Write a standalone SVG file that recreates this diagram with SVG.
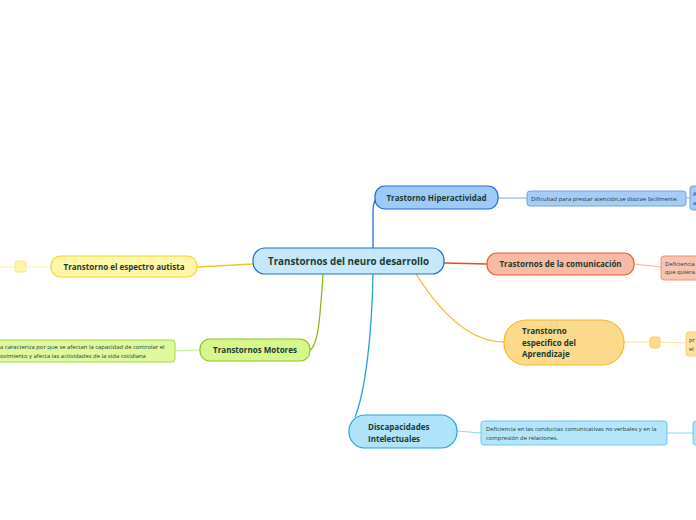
<svg xmlns="http://www.w3.org/2000/svg" width="696" height="520" viewBox="0 0 696 520">
<style>
text{font-family:"Open Sans","Noto Sans",sans-serif;fill:#1b3b30}
.t{font-weight:bold;font-size:8px}
.s{font-size:5.9px}
.c{fill:none;stroke-width:1.3}
.l{fill:none;stroke-width:1}
</style>
<rect width="696" height="520" fill="#fff"/>
<g id="connectors">
<path class="c" d="M373,248 L373,211 Q373,199 379,198" stroke="#2c6fd6"/>
<path class="c" d="M444,263 L487,264" stroke="#e8481c"/>
<path class="c" d="M416,274 C440,312 470,342 504,342" stroke="#f5b82a"/>
<path class="c" d="M373,274 C372,330 366,390 355,417" stroke="#2a9fd6"/>
<path class="c" d="M323,274 C320,320 318,345 310,350" stroke="#8bbb1a"/>
<path class="c" d="M253,264 L197,267" stroke="#f0c81a"/>
<path class="l" d="M498,198 L527,198" stroke="#7aa8ea"/>
<path class="l" d="M686,198 L690,198" stroke="#7aa8ea"/>
<path class="l" d="M634,264 L661,267" stroke="#f5b4a0"/>
<path class="l" d="M624,342 L650,342 M660,342 L686,343" stroke="#fde3a0"/>
<path class="l" d="M457,431 L481,433 M667,433 L693,433" stroke="#8fd2f3"/>
<path class="l" d="M51,267 L26,267 M15,267 L0,267" stroke="#fbf3a0"/>
<path class="l" d="M200,350 L175,351" stroke="#c5e88a"/>
</g>
<g id="central">
<rect x="253" y="248" width="191" height="26" rx="12" fill="#c7e8fb" stroke="#1c70bd" stroke-width="1.2"/>
<text x="348.5" y="264.5" text-anchor="middle" font-weight="bold" font-size="9.8">Transtornos del neuro desarrollo</text>
</g>
<g id="hiperactividad">
<rect x="375" y="186" width="123" height="23" rx="10" fill="#9dcaf8" stroke="#2266d0" stroke-width="1.2"/>
<text class="t" x="436.5" y="200.5" text-anchor="middle">Trastorno Hiperactividad</text>
</g>
<g id="hiper-sub">
<rect x="527" y="191" width="159" height="15" rx="3" fill="#a6cbf6" stroke="#6fa2e6"/>
<text class="s" x="531" y="200.5">Dificultad para prestar atención,se distrae facilmente.</text>
</g>
<g id="hiper-sub2">
<rect x="690" y="186" width="20" height="24" rx="3" fill="#a6cbf6" stroke="#6fa2e6"/>
<text class="s" x="693" y="196">A</text>
<text class="s" x="693" y="205">a</text>
</g>
<g id="comunicacion">
<rect x="487" y="253" width="147" height="22" rx="10" fill="#f8baa4" stroke="#e85a30" stroke-width="1.2"/>
<text class="t" x="560.5" y="267" text-anchor="middle">Trastornos de la comunicación</text>
</g>
<g id="comunicacion-sub">
<rect x="661" y="256" width="50" height="24" rx="3" fill="#f8c3b0" stroke="#f09274"/>
<text class="s" x="665" y="265.5">Deficiencia</text>
<text class="s" x="665" y="274">que quiera.</text>
</g>
<g id="aprendizaje">
<rect x="504" y="320" width="120" height="45" rx="22" fill="#fdd98b" stroke="#f6b928" stroke-width="1.2"/>
<text class="t" x="522" y="334">Transtorno</text>
<text class="t" x="522" y="345.5">especifico del</text>
<text class="t" x="522" y="357">Aprendizaje</text>
</g>
<g id="aprendizaje-dot">
<rect x="650" y="337" width="10" height="11" rx="2" fill="#fdd98b" stroke="#f8cf6e"/>
</g>
<g id="aprendizaje-sub">
<rect x="686" y="332" width="20" height="24" rx="3" fill="#fde0a0" stroke="#f8cf6e"/>
<text class="s" x="689" y="342">pr</text>
<text class="s" x="689" y="351">el</text>
</g>
<g id="discapacidades">
<rect x="349" y="415" width="108" height="33" rx="16" fill="#afe3fb" stroke="#2a9fd6" stroke-width="1.2"/>
<text class="t" x="368" y="429.5">Discapacidades</text>
<text class="t" x="368" y="442">Intelectuales</text>
</g>
<g id="discapacidades-sub">
<rect x="481" y="421" width="186" height="24" rx="3" fill="#b5e5fb" stroke="#6ec5ee"/>
<text class="s" x="486" y="430.5">Deficiencia en las conductas comunicativas no verbales y en la</text>
<text class="s" x="486" y="439.5">compresión de relaciones.</text>
</g>
<g id="discapacidades-sub2">
<rect x="693" y="421" width="20" height="24" rx="3" fill="#b5e5fb" stroke="#6ec5ee"/>
</g>
<g id="autista">
<rect x="51" y="256" width="146" height="21" rx="10" fill="#fff6a9" stroke="#f2d62a" stroke-width="1.2"/>
<text class="t" x="124" y="269.5" text-anchor="middle">Transtorno el espectro autista</text>
</g>
<g id="autista-dot">
<rect x="15" y="261" width="11" height="11" rx="2" fill="#fff6a9" stroke="#f7e77a"/>
</g>
<g id="motores">
<rect x="200" y="339" width="110" height="22" rx="10" fill="#d7f68c" stroke="#8bc51f" stroke-width="1.2"/>
<text class="t" x="255" y="353" text-anchor="middle">Transtornos Motores</text>
</g>
<g id="motores-sub">
<rect x="-20" y="340" width="195" height="22" rx="3" fill="#dff89c" stroke="#a6d44c"/>
<text class="s" x="0" y="349">a caracteriza por que se afectan la capacidad de controlar el</text>
<text class="s" x="0" y="358">ovimiento y afecta las actividades de la vida cotidiana</text>
</g>
</svg>
